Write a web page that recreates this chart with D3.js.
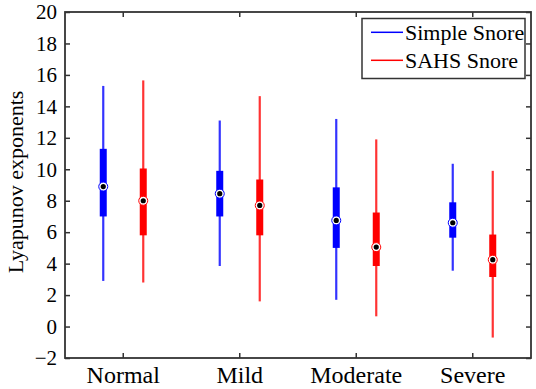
<!DOCTYPE html>
<html>
<head>
<meta charset="utf-8">
<script src="https://cdn.jsdelivr.net/npm/d3@7"></script>
<style>
body{margin:0;background:#fff;}
</style>
</head>
<body>
<script>
const categories=["Normal","Mild","Moderate","Severe"];
const seriesNames=["Simple Snore","SAHS Snore"];
const colors=["#0000ff","#ff0000"];
// [whiskerLow, q1, median, q3, whiskerHigh]
const simpleSnore=[
    [2.9,7.0,8.9,11.3,15.3],
    [3.85,7.0,8.45,9.9,13.1],
    [1.7,5.0,6.75,8.85,13.2],
    [3.55,5.65,6.6,7.9,10.35]
];
const sahsSnore=[
    [2.8,5.8,8.0,10.05,15.65],
    [1.6,5.8,7.7,9.35,14.65],
    [0.65,3.85,5.05,7.25,11.9],
    [-0.7,3.15,4.25,5.85,9.9]
];
const yTicks=[-2,0,2,4,6,8,10,12,14,16,18,20];

const serif="'Liberation Serif', 'Times New Roman', Times, serif";
const width=536,height=389;
const margin={left:65,right:5,top:12,bottom:31};
const svg=d3.select("body").append("svg")
    .attr("width",width)
    .attr("height",height);

const x=d3.scaleBand()
    .domain(categories)
    .range([margin.left,width-margin.right]);
const y=d3.scaleLinear()
    .domain([-2,20])
    .range([height-margin.bottom,margin.top]);
const offset=d3.scalePoint()
    .domain(seriesNames)
    .range([-20,20]);

const plotW=width-margin.right-margin.left;
const plotH=height-margin.bottom-margin.top;

// axes
const axisColor="#333";
const gy=svg.append("g")
    .attr("transform",`translate(${margin.left},0)`)
    .call(d3.axisLeft(y).tickValues(yTicks).tickSize(-5).tickPadding(8));
const gyr=svg.append("g")
    .attr("transform",`translate(${width-margin.right},0)`)
    .call(d3.axisRight(y).tickValues(yTicks).tickSize(-5).tickFormat(""));
const gx=svg.append("g")
    .attr("transform",`translate(0,${height-margin.bottom})`)
    .call(d3.axisBottom(x).tickSize(-5).tickPadding(8));
const gxt=svg.append("g")
    .attr("transform",`translate(0,${margin.top})`)
    .call(d3.axisTop(x).tickSize(-5).tickFormat(""));
[gy,gyr,gx,gxt].forEach(g=>{
    g.attr("font-family",serif);
    g.select(".domain").remove();
    g.selectAll(".tick line").attr("stroke",axisColor).attr("stroke-width",1.5);
    g.selectAll("text").attr("fill","#000");
});
gy.attr("font-size",21);
gx.attr("font-size",24);

svg.append("rect")
    .attr("x",margin.left)
    .attr("y",margin.top)
    .attr("width",plotW)
    .attr("height",plotH)
    .attr("fill","none")
    .attr("stroke",axisColor)
    .attr("stroke-width",1.8);

svg.append("text")
    .attr("transform",`translate(23,${margin.top+plotH/2-3}) rotate(-90)`)
    .attr("text-anchor","middle")
    .attr("font-family",serif)
    .attr("font-size",22)
    .attr("fill","#000")
    .text("Lyapunov exponents");

// boxes
const series=[simpleSnore,sahsSnore];
series.forEach((vals,si)=>{
    const g=svg.append("g");
    const cx=i=>x(categories[i])+x.bandwidth()/2+offset(seriesNames[si]);
    const items=g.selectAll("g.box")
        .data(vals)
        .enter()
        .append("g");
    items.append("line")
        .attr("x1",(d,i)=>cx(i))
        .attr("x2",(d,i)=>cx(i))
        .attr("y1",d=>y(d[0]))
        .attr("y2",d=>y(d[4]))
        .attr("stroke",colors[si])
        .attr("stroke-opacity",0.8)
        .attr("stroke-width",2.2);
    items.append("rect")
        .attr("x",(d,i)=>cx(i)-3.5)
        .attr("width",7)
        .attr("y",d=>y(d[3]))
        .attr("height",d=>y(d[1])-y(d[3]))
        .attr("fill",colors[si]);
    items.append("circle")
        .attr("cx",(d,i)=>cx(i))
        .attr("cy",d=>y(d[2]))
        .attr("r",4.5)
        .attr("fill","#fff")
        .attr("stroke",colors[si])
        .attr("stroke-width",1);
    items.append("circle")
        .attr("cx",(d,i)=>cx(i))
        .attr("cy",d=>y(d[2]))
        .attr("r",2.6)
        .attr("fill","#000");
});

// legend
const lg=svg.append("g");
lg.append("rect")
    .attr("x",362)
    .attr("y",18.5)
    .attr("width",163)
    .attr("height",60)
    .attr("fill","#fff")
    .attr("stroke",axisColor)
    .attr("stroke-width",1.5);
seriesNames.forEach((name,i)=>{
    const ly=32.3+i*28;
    lg.append("line")
        .attr("x1",371).attr("x2",403)
        .attr("y1",ly).attr("y2",ly)
        .attr("stroke",colors[i])
        .attr("stroke-width",1.5);
    lg.append("text")
        .attr("x",405)
        .attr("y",ly)
        .attr("dy","0.33em")
        .attr("font-family",serif)
        .attr("font-size",22)
        .attr("fill","#000")
        .text(name);
});
</script>
</body>
</html>
